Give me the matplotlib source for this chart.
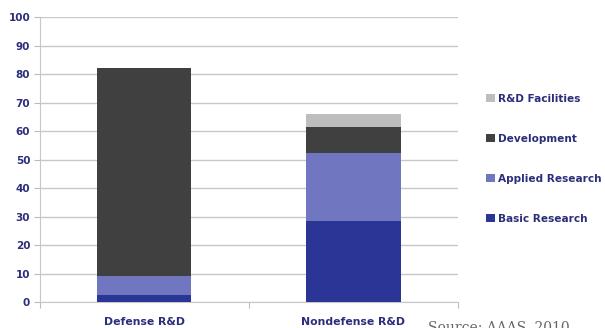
import numpy as np
import matplotlib.pyplot as plt

plt.rcParams['font.family'] = 'DejaVu Sans'

# data (billions of dollars)
categories = ['Defense R&D', 'Nondefense R&D']
series_names = ['Basic Research', 'Applied Research', 'Development', 'R&D Facilities']
basic = [2.5, 28.3]
applied = [6.6, 24.1]
development = [72.9, 9.1]
facilities = [0.0, 4.4]
y_ticks = [0, 10, 20, 30, 40, 50, 60, 70, 80, 90, 100]

colors = ['#2b3595', '#7176c0', '#404040', '#bdbdbd']
text_color = '#2b2e7a'

fig = plt.figure(figsize=(6.05, 3.28), dpi=100)
ax = fig.add_axes([0.066, 0.079, 0.691, 0.869])

x = np.arange(len(categories))
width = 0.45
bottom = np.zeros(len(categories))
handles = []
for name, vals, c in zip(series_names, [basic, applied, development, facilities], colors):
    b = ax.bar(x, vals, width, bottom=bottom, color=c, label=name, zorder=3)
    handles.append(b)
    bottom += np.array(vals)

ax.set_xlim(-0.5, 1.5)
ax.set_ylim(0, 100)
ax.set_yticks(y_ticks)
ax.set_yticklabels([str(v) for v in y_ticks], fontsize=7.5, fontweight='bold', color=text_color)
ax.tick_params(axis='y', length=4, color='#bbbbbb', pad=3)

# category labels centered under bars, boundary ticks between them
ax.set_xticks([-0.5, 0.5, 1.5])
ax.set_xticklabels([])
ax.tick_params(axis='x', length=4, color='#bbbbbb')
for xi, lab in zip(x, categories):
    ax.text(xi, -5.3, lab, ha='center', va='top', fontsize=7.8, fontweight='bold',
            color=text_color)

ax.grid(True, axis='y', color='#c8c8c8', linewidth=1.0, zorder=0)
for side in ['top', 'right']:
    ax.spines[side].set_visible(False)
ax.spines['left'].set_color('#c8c8c8')
ax.spines['bottom'].set_color('#c8c8c8')

leg = fig.legend(handles[::-1], series_names[::-1], loc='upper left',
                 bbox_to_anchor=(0.797, 0.727), frameon=False,
                 fontsize=7.6, labelspacing=2.85, handlelength=0.8, handleheight=0.8,
                 handletextpad=0.3, borderaxespad=0)
for t in leg.get_texts():
    t.set_color(text_color)
    t.set_fontweight('bold')

fig.text(0.707, 0.025, 'Source: AAAS, 2010', ha='left', va='top', fontsize=10,
         family='DejaVu Serif', color='#666666')

fig.savefig('out.png', dpi=100, facecolor='white')
